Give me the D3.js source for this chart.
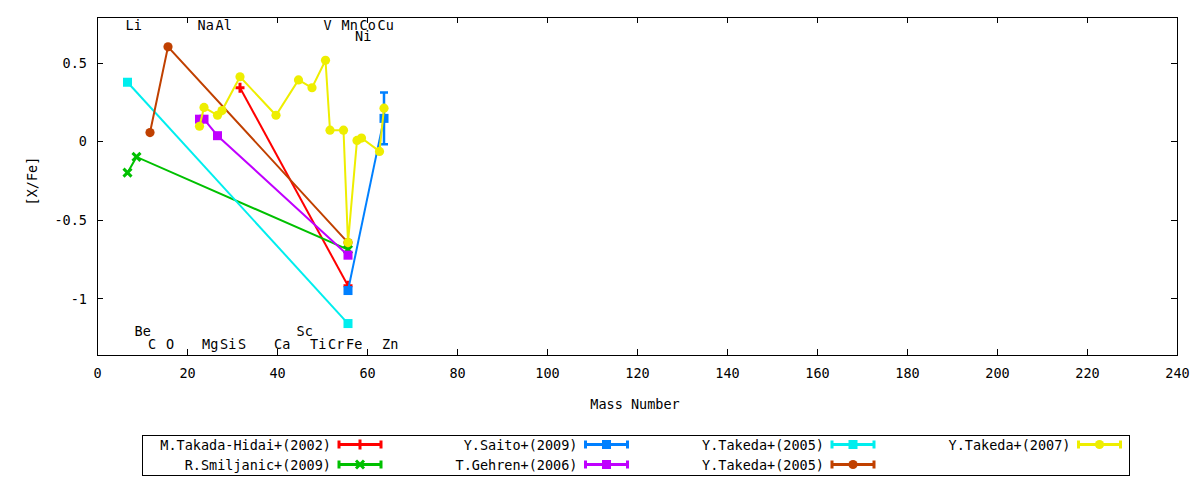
<!DOCTYPE html>
<html>
<head>
<meta charset="utf-8">
<script src="https://cdn.jsdelivr.net/npm/d3@7"></script>
<style>
  body { margin: 0; background: #fff; }
  text { font-family: "DejaVu Sans Mono", monospace; font-size: 13.5px; fill: #000; }
</style>
</head>
<body>
<script>
// series data: [mass number, [X/Fe], error]
const takadaHidai2002 = [[32, 0.34, 0], [56, -0.92, 0]]
const smiljanic2009 = [[7, -0.2, 0], [9, -0.1, 0], [56, -0.69, 0]]
const saito2009 = [[56, -0.95, 0], [64, 0.145, 0.165]]
const gehren2006 = [[23, 0.14, 0], [24, 0.14, 0], [27, 0.035, 0], [56, -0.725, 0]]
const takeda2005a = [[7, 0.375, 0], [56, -1.16, 0]]
const takeda2005b = [[12, 0.055, 0], [16, 0.6, 0], [56, -0.645, 0]]
const takeda2007 = [
  [23, 0.095, 0], [24, 0.215, 0], [27, 0.165, 0], [28, 0.195, 0], [32, 0.41, 0],
  [40, 0.165, 0], [45, 0.39, 0], [48, 0.34, 0], [51, 0.515, 0], [52, 0.07, 0],
  [55, 0.07, 0], [56, -0.645, 0], [58, 0.005, 0], [59, 0.02, 0], [63, -0.065, 0],
  [64, 0.21, 0]
]

const seriesNames = ['M.Takada-Hidai+(2002)', 'R.Smiljanic+(2009)', 'Y.Saito+(2009)',
  'T.Gehren+(2006)', 'Y.Takeda+(2005)', 'Y.Takeda+(2005)', 'Y.Takeda+(2007)']
const seriesData = [takadaHidai2002, smiljanic2009, saito2009, gehren2006,
  takeda2005a, takeda2005b, takeda2007]
const seriesColors = ['#ff0000', '#00c000', '#0080ff', '#c000ff', '#00eeee', '#c04000', '#eeee00']
const seriesMarks = ['plus', 'cross', 'square', 'square', 'square', 'circle', 'circle']

// element labels: symbol, mass number, [X/Fe] height
const elemNames = ['Li', 'Na', 'Al', 'V', 'Mn', 'Co', 'Cu', 'Ni',
  'Be', 'Sc', 'C', 'O', 'Mg', 'Si', 'S', 'Ca', 'Ti', 'Cr', 'Fe', 'Zn']
const elemMass = [7, 23, 27, 51, 55, 59, 63, 58,
  9, 45, 12, 16, 24, 28, 32, 40, 48, 52, 56, 64]
const elemLevel = [0.74, 0.74, 0.74, 0.74, 0.74, 0.74, 0.74, 0.67,
  -1.205, -1.205, -1.29, -1.29, -1.29, -1.29, -1.29, -1.29, -1.29, -1.29, -1.29, -1.29]

const xTicks = d3.range(0, 241, 20)
const yTicks = [-1, -0.5, 0, 0.5]

const W = 1200, H = 480
const plotL = 97, plotR = 1177, plotT = 17, plotB = 355

const x = d3.scaleLinear().domain([0, 240]).range([plotL, plotR])
const y = d3.scaleLinear().domain([-1.36, 0.79]).range([plotB, plotT])

const svg = d3.select('body')
  .append('svg')
  .attr('width', W)
  .attr('height', H)

// axes with inward ticks, mirrored on top and right
const gx = svg.append('g')
  .attr('transform', `translate(0, ${plotB})`)
  .call(d3.axisBottom(x).tickValues(xTicks).tickFormat(d3.format('d')).tickSizeInner(-6).tickSizeOuter(0))
gx.selectAll('text').attr('y', 18.5).attr('dy', '0.35em')
gx.select('.domain').remove()

const gxTop = svg.append('g')
  .attr('transform', `translate(0, ${plotT})`)
  .call(d3.axisTop(x).tickValues(xTicks).tickFormat('').tickSizeInner(-6).tickSizeOuter(0))
gxTop.select('.domain').remove()

const gy = svg.append('g')
  .attr('transform', `translate(${plotL}, 0)`)
  .call(d3.axisLeft(y).tickValues(yTicks).tickFormat(d => String(d)).tickSizeInner(-6).tickSizeOuter(0))
gy.selectAll('text').attr('x', -10).attr('dy', '0.35em')
gy.select('.domain').remove()

const gyRight = svg.append('g')
  .attr('transform', `translate(${plotR}, 0)`)
  .call(d3.axisRight(y).tickValues(yTicks).tickFormat('').tickSizeInner(-6).tickSizeOuter(0))
gyRight.select('.domain').remove()

svg.selectAll('.tick line').attr('stroke', '#000').attr('shape-rendering', 'crispEdges')
svg.selectAll('.tick text')
  .style('font-family', '"DejaVu Sans Mono", monospace')
  .style('font-size', '13.5px')
  .attr('fill', '#000')

svg.append('rect')
  .attr('x', plotL + 0.5)
  .attr('y', plotT + 0.5)
  .attr('width', plotR - plotL)
  .attr('height', plotB - plotT)
  .attr('fill', 'none')
  .attr('stroke', '#000')
  .attr('shape-rendering', 'crispEdges')

svg.append('text')
  .attr('x', (plotL + plotR) / 2 - 2)
  .attr('y', 404)
  .attr('text-anchor', 'middle')
  .attr('dominant-baseline', 'central')
  .text('Mass Number')

svg.append('text')
  .attr('transform', 'translate(32, 181) rotate(-90)')
  .attr('text-anchor', 'middle')
  .attr('dominant-baseline', 'central')
  .text('[X/Fe]')

// element labels
svg.append('g').selectAll('text')
  .data(elemNames)
  .enter()
  .append('text')
  .attr('x', (d, i) => x(elemMass[i]) - 3)
  .attr('y', (d, i) => y(elemLevel[i]))
  .attr('dominant-baseline', 'central')
  .text(d => d)

function drawMark(g, type, color, cx, cy) {
  if (type === 'square') {
    g.append('rect').attr('x', cx - 4.5).attr('y', cy - 4.5).attr('width', 9).attr('height', 9).attr('fill', color)
  } else if (type === 'circle') {
    g.append('circle').attr('cx', cx).attr('cy', cy).attr('r', 4.6).attr('fill', color)
  } else if (type === 'plus') {
    g.append('path').attr('d', `M${cx - 4.5},${cy}H${cx + 4.5}M${cx},${cy - 5}V${cy + 5}`)
      .attr('stroke', color).attr('stroke-width', 3).attr('fill', 'none')
  } else if (type === 'cross') {
    g.append('path').attr('d', `M${cx - 4},${cy - 4}L${cx + 4},${cy + 4}M${cx - 4},${cy + 4}L${cx + 4},${cy - 4}`)
      .attr('stroke', color).attr('stroke-width', 3).attr('fill', 'none')
  }
}

const line = d3.line().x(d => x(d[0]) - 1).y(d => y(d[1]))

seriesData.forEach((data, s) => {
  const color = seriesColors[s]
  const g = svg.append('g')

  g.append('path')
    .attr('d', line(data))
    .attr('fill', 'none')
    .attr('stroke', color)
    .attr('stroke-width', 2)

  data.filter(d => d[2] > 0).forEach(d => {
    const cx = x(d[0]) - 1
    g.append('path')
      .attr('d', `M${cx},${y(d[1] - d[2])}V${y(d[1] + d[2])}M${cx - 4},${y(d[1] + d[2])}H${cx + 4}M${cx - 4},${y(d[1] - d[2])}H${cx + 4}`)
      .attr('stroke', color)
      .attr('stroke-width', 2.5)
      .attr('fill', 'none')
  })

  data.forEach(d => drawMark(g, seriesMarks[s], color, x(d[0]) - 1, y(d[1])))
})

// legend
const legendColEnd = [331, 577.5, 824, 1070.5]
const legendRowY = [444.5, 464.5]

svg.append('rect')
  .attr('x', 142.5)
  .attr('y', 435.5)
  .attr('width', 987)
  .attr('height', 40)
  .attr('fill', 'none')
  .attr('stroke', '#000')
  .attr('shape-rendering', 'crispEdges')

seriesNames.forEach((name, s) => {
  const col = Math.floor(s / 2)
  const row = s % 2
  const tx = legendColEnd[col]
  const ty = legendRowY[row]
  const color = seriesColors[s]
  const g = svg.append('g')

  g.append('text')
    .attr('x', tx)
    .attr('y', ty)
    .attr('text-anchor', 'end')
    .attr('dominant-baseline', 'central')
    .text(name)

  const x0 = tx + 8, x1 = tx + 50
  g.append('path')
    .attr('d', `M${x0},${ty}H${x1}M${x0},${ty - 4}V${ty + 4}M${x1},${ty - 4}V${ty + 4}`)
    .attr('stroke', color)
    .attr('stroke-width', 3)
    .attr('fill', 'none')

  drawMark(g, seriesMarks[s], color, (x0 + x1) / 2, ty)
})
</script>
</body>
</html>
